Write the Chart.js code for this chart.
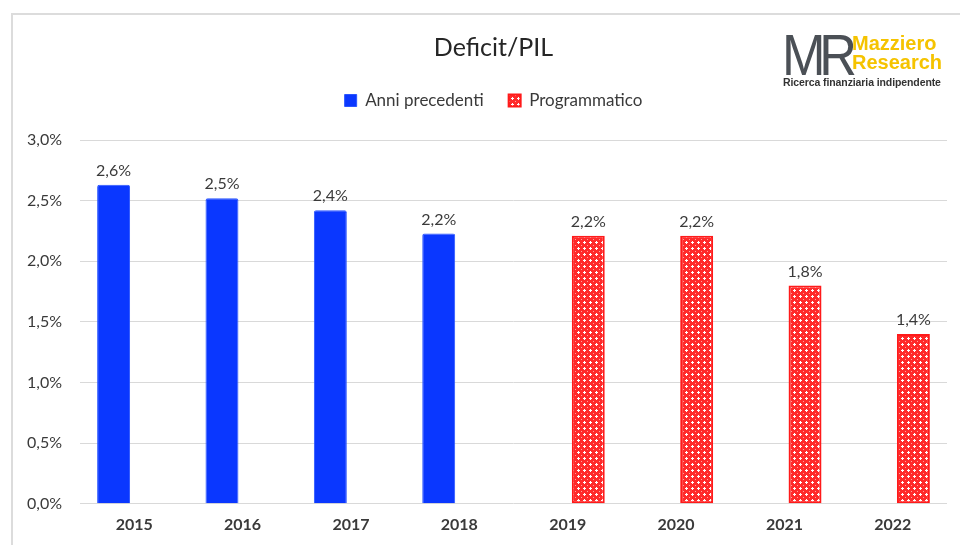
<!DOCTYPE html>
<html>
<head>
<meta charset="utf-8">
<script src="https://cdn.jsdelivr.net/npm/chart.js@4"></script>
<style>
  html, body { margin: 0; padding: 0; background: #fff; }
  #wrap { position: relative; width: 960px; height: 547px; overflow: hidden; }
  #frame { position: absolute; left: 11px; top: 13px; width: 960px; height: 530px;
           border-left: 2px solid #dcdcdc; border-top: 2px solid #dcdcdc; }
  #c { position: absolute; left: 0; top: 0; }
  .logo { position: absolute; left: 782px; top: 30px; font-family: "Liberation Sans", Arial, sans-serif; }
  .logo .mr { position: absolute; left: 0; top: 0; font-size: 58px; line-height: 50px; color: #4b5056;
              letter-spacing: -7px; font-weight: 400; transform: scaleX(0.9); transform-origin: left; }
  .logo .name { position: absolute; left: 70px; top: 4px; color: #f5c300; font-weight: bold;
                font-size: 20px; line-height: 19px; white-space: nowrap; }
  .logo .sub { position: absolute; left: 1px; top: 46px; color: #333; font-weight: bold;
               font-size: 10.5px; white-space: nowrap; letter-spacing: -0.1px; }
</style>
</head>
<body>
<div id="wrap">
  <div id="frame"></div>
  <canvas id="c" width="960" height="547"></canvas>
  <div class="logo">
    <div class="mr">MR</div>
    <div class="name">Mazziero<br>Research</div>
    <div class="sub">Ricerca finanziaria indipendente</div>
  </div>
</div>
<script>
const YEARS = ['2015', '2016', '2017', '2018', '2019', '2020', '2021', '2022'];
const PAST = [2.63, 2.52, 2.42, 2.23, null, null, null, null];
const PLANNED = [null, null, null, null, 2.21, 2.21, 1.80, 1.40];
const Y_TICKS = [0, 0.5, 1, 1.5, 2, 2.5, 3];

const FONT = 'Lato, "Open Sans", sans-serif';
const TEXT = '#3a3a3a';
const HEADER_SHIFT = 40; // title + legend centred a bit right of the canvas middle

function fmtPct(v, d) {
    return v.toFixed(d).replace('.', ',') + '%';
}

// red lattice pattern for "Programmatico"
function makePattern() {
    const p = document.createElement('canvas');
    p.width = 6; p.height = 6;
    const g = p.getContext('2d');
    g.fillStyle = '#ff2a2a';
    g.fillRect(0, 0, 6, 6);
    g.fillStyle = '#ffffff';
    g.fillRect(1, 2, 3, 1);
    g.fillRect(2, 1, 1, 3);
    g.fillStyle = 'rgba(255,255,255,0.55)';
    g.fillRect(5, 5, 1, 1);
    return g.createPattern(p, 'repeat');
}

// extra room below the legend, and header shifted right
const headerTweaks = {
    id: 'headerTweaks',
    beforeInit(chart) {
        const fit = chart.legend.fit;
        chart.legend.fit = function () {
            fit.call(this);
            this.height += 21;
        };
    },
    afterLayout(chart) {
        chart.titleBlock.left += HEADER_SHIFT;
        chart.legend.left += HEADER_SHIFT;
    }
};

const valueLabels = {
    id: 'valueLabels',
    afterDatasetsDraw(chart) {
        const ctx = chart.ctx;
        ctx.save();
        ctx.font = '16px ' + FONT;
        ctx.fillStyle = TEXT;
        ctx.textAlign = 'center';
        ctx.textBaseline = 'bottom';
        chart.data.datasets.forEach((ds, i) => {
            chart.getDatasetMeta(i).data.forEach((bar, j) => {
                const v = ds.data[j];
                if (v == null) return;
                ctx.fillText(fmtPct(v, 1), bar.x, bar.y - 6);
            });
        });
        ctx.restore();
    }
};

new Chart(document.getElementById('c'), {
    type: 'bar',
    data: {
        labels: YEARS,
        datasets: [
            {
                label: 'Anni precedenti',
                data: PAST,
                backgroundColor: '#0a37ff',
                borderColor: '#2a55ff',
                borderWidth: 1,
                borderRadius: 2,
                borderSkipped: 'bottom',
            },
            {
                label: 'Programmatico',
                data: PLANNED,
                backgroundColor: makePattern(),
                borderColor: '#ff1a1a',
                borderWidth: 2,
                borderSkipped: false,
            }
        ]
    },
    options: {
        responsive: false,
        animation: false,
        categoryPercentage: 0.76,
        barPercentage: 0.8,
        layout: { padding: { left: 0, right: 13, top: 33, bottom: 10 } },
        plugins: {
            title: {
                display: true,
                text: 'Deficit/PIL',
                color: '#262626',
                font: { family: FONT, size: 25, weight: 'normal' },
                padding: { top: 0, bottom: 4 },
            },
            legend: {
                display: true,
                labels: {
                    color: TEXT,
                    font: { family: FONT, size: 17 },
                    boxWidth: 12,
                    boxHeight: 12,
                    padding: 25,
                },
            },
            tooltip: { enabled: false },
        },
        scales: {
            x: {
                grid: { display: false },
                border: { display: false },
                ticks: { color: TEXT, font: { family: FONT, size: 16, weight: 'bold' }, padding: 3 },
            },
            y: {
                min: 0,
                max: 3,
                afterBuildTicks: s => { s.ticks = Y_TICKS.map(v => ({ value: v })); },
                afterFit: s => { s.width = 80; },
                grid: { color: '#d9d9d9', lineWidth: 1, drawTicks: false },
                border: { display: false },
                ticks: {
                    color: TEXT,
                    font: { family: FONT, size: 16 },
                    padding: 18,
                    callback: v => fmtPct(v, 1),
                },
            },
        },
    },
    plugins: [headerTweaks, valueLabels],
});
</script>
</body>
</html>
